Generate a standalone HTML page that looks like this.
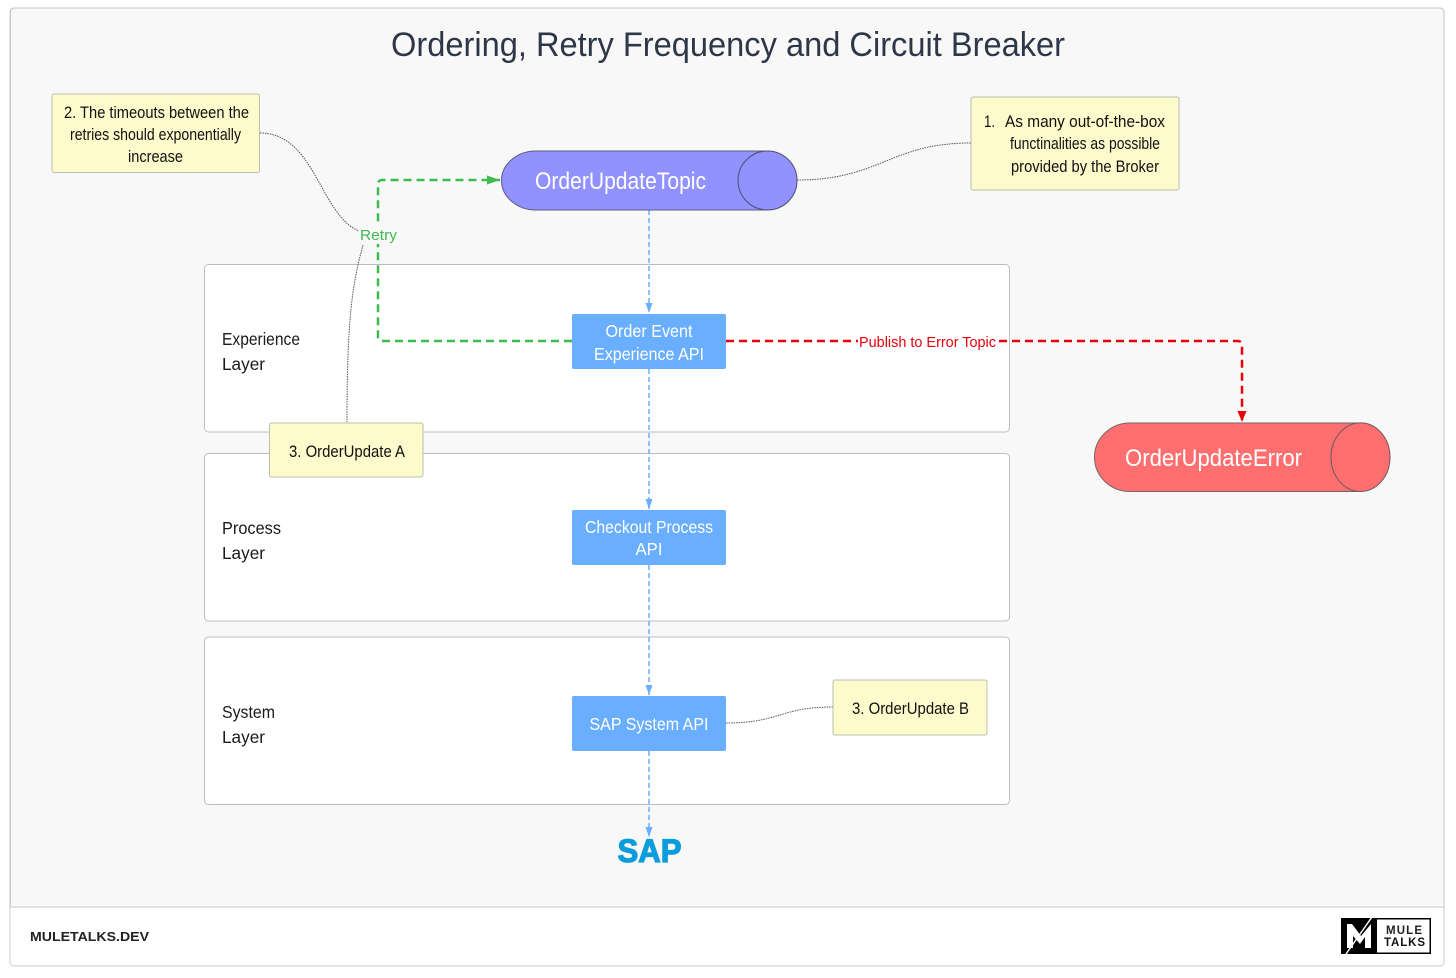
<!DOCTYPE html>
<html lang="en">
<head>
<meta charset="utf-8">
<title>Ordering, Retry Frequency and Circuit Breaker</title>
<style>
html,body{margin:0;padding:0;background:#fff;width:1456px;height:978px;overflow:hidden}
svg{display:block}
text{font-family:"Liberation Sans",sans-serif}
</style>
</head>
<body>
<svg width="1456" height="978" viewBox="0 0 1456 978" xmlns="http://www.w3.org/2000/svg">
<defs>
<marker id="g" markerUnits="userSpaceOnUse" markerWidth="14" markerHeight="12" refX="13" refY="6" orient="auto"><path d="M0 1.5L13 6L0 10.500Z" fill="#3dbb4e"/></marker>
<marker id="r" markerUnits="userSpaceOnUse" markerWidth="12" markerHeight="14" refX="11" refY="7" orient="auto"><path d="M0 2.500L11 7L0 11.500Z" fill="#e8000b"/></marker>
<marker id="b" markerUnits="userSpaceOnUse" markerWidth="12" markerHeight="12" refX="10" refY="6" orient="auto"><path d="M0 2.500L10 6L0 9.500Z" fill="#69aeff"/></marker>
</defs>

<!-- outer frame -->
<rect x="10" y="8" width="1434" height="958" rx="4" fill="#fff" stroke="#c9cdd2"/>
<path d="M10.500 907V12a4 4 0 0 1 4-4H1440a4 4 0 0 1 4 4V907Z" fill="#f8f8f8" stroke="#c4c7cc"/>

<text x="728" y="56" font-size="34" fill="#2d3748" text-anchor="middle" textLength="674" lengthAdjust="spacingAndGlyphs">Ordering, Retry Frequency and Circuit Breaker</text>

<!-- layers -->
<rect x="204.500" y="264.500" width="805" height="167.500" rx="4" fill="#fff" stroke="#b9bec6"/>
<rect x="204.500" y="453.500" width="805" height="167.500" rx="4" fill="#fff" stroke="#b9bec6"/>
<rect x="204.500" y="637" width="805" height="167.500" rx="4" fill="#fff" stroke="#b9bec6"/>

<g font-size="17.500" fill="#1a1a1a">
<text x="222" y="345" textLength="78" lengthAdjust="spacingAndGlyphs">Experience</text>
<text x="222" y="370" textLength="43" lengthAdjust="spacingAndGlyphs">Layer</text>
<text x="222" y="534" textLength="59" lengthAdjust="spacingAndGlyphs">Process</text>
<text x="222" y="559" textLength="43" lengthAdjust="spacingAndGlyphs">Layer</text>
<text x="222" y="718" textLength="53" lengthAdjust="spacingAndGlyphs">System</text>
<text x="222" y="743" textLength="43" lengthAdjust="spacingAndGlyphs">Layer</text>
</g>

<!-- note connectors -->
<g fill="none" stroke="#555" stroke-width="1" stroke-dasharray="1.500 1">
<path d="M260 133C315 133 320 215 359 231"/>
<path d="M363 245C352 285 347 320 347 422"/>
<path d="M797 180C880 180 890 143 971 143"/>
<path d="M726 723C780 723 780 707 833 707"/>
</g>

<!-- blue flow -->
<g fill="none" stroke="#69aeff" stroke-width="1.500" stroke-dasharray="5 3">
<path d="M649 210V313" marker-end="url(#b)"/>
<path d="M649 369V509" marker-end="url(#b)"/>
<path d="M649 565V695" marker-end="url(#b)"/>
<path d="M649 751V837" marker-end="url(#b)"/>
</g>

<!-- retry -->
<path d="M572 341H382a4 4 0 0 1-4-4V184a4 4 0 0 1 4-4H500" fill="none" stroke="#3dbb4e" stroke-width="2.500" stroke-dasharray="8 5" marker-end="url(#g)"/>
<rect x="360" y="226" width="37" height="18" fill="#f8f8f8"/>
<text x="360" y="240" font-size="15" fill="#3dbb4e" textLength="37" lengthAdjust="spacingAndGlyphs">Retry</text>

<!-- error -->
<path d="M726 341H1238a4 4 0 0 1 4 4V422" fill="none" stroke="#e8000b" stroke-width="2.500" stroke-dasharray="8 5" marker-end="url(#r)"/>
<rect x="858" y="332" width="139" height="19" fill="#fff"/>
<text x="859" y="347" font-size="15" fill="#e8000b" textLength="137" lengthAdjust="spacingAndGlyphs">Publish to Error Topic</text>

<!-- topic cylinders -->
<path d="M536 151H762A34.500 29.500 0 0 1 762 210H536A34.500 29.500 0 0 1 536 151Z" fill="#9191ff" stroke="#5d5d80"/>
<ellipse cx="767.500" cy="180.500" rx="29.500" ry="29.500" fill="#9191ff" stroke="#4f4f70"/>
<text x="535" y="189" font-size="24" fill="#fff" textLength="171" lengthAdjust="spacingAndGlyphs">OrderUpdateTopic</text>

<path d="M1130 423H1355A34.500 34.250 0 0 1 1355 491.500H1130A35.500 34.250 0 0 1 1130 423Z" fill="#ff6f6f" stroke="#75666a"/>
<ellipse cx="1360.500" cy="457.200" rx="29.500" ry="34.300" fill="#ff6f6f" stroke="#6a5a5e"/>
<text x="1125" y="466" font-size="24" fill="#fff" textLength="177" lengthAdjust="spacingAndGlyphs">OrderUpdateError</text>

<!-- API boxes -->
<g fill="#69aeff">
<rect x="572" y="314" width="154" height="55" rx="2"/>
<rect x="572" y="510" width="154" height="55" rx="2"/>
<rect x="572" y="696" width="154" height="55" rx="2"/>
</g>
<g font-size="17.500" fill="#fff" text-anchor="middle">
<text x="649" y="337" textLength="87" lengthAdjust="spacingAndGlyphs">Order Event</text>
<text x="649" y="360" textLength="110" lengthAdjust="spacingAndGlyphs">Experience API</text>
<text x="649" y="533" textLength="128" lengthAdjust="spacingAndGlyphs">Checkout Process</text>
<text x="649" y="555" textLength="27" lengthAdjust="spacingAndGlyphs">API</text>
<text x="649" y="730" textLength="119" lengthAdjust="spacingAndGlyphs">SAP System API</text>
</g>

<!-- notes -->
<g fill="#fdfbcb" stroke="#bdbfae">
<rect x="52" y="94" width="207.500" height="78.500" rx="2"/>
<rect x="971" y="97" width="208" height="93" rx="2"/>
<rect x="269.500" y="423" width="153.500" height="54" rx="2"/>
<rect x="833" y="680" width="154" height="55" rx="2"/>
</g>
<g font-size="17" fill="#111">
<text x="64" y="118" textLength="185" lengthAdjust="spacingAndGlyphs">2. The timeouts between the</text>
<text x="70" y="140" textLength="171" lengthAdjust="spacingAndGlyphs">retries should exponentially</text>
<text x="128" y="162" textLength="55" lengthAdjust="spacingAndGlyphs">increase</text>
<text x="984" y="127" textLength="11" lengthAdjust="spacingAndGlyphs">1.</text>
<text x="1005" y="127" textLength="160" lengthAdjust="spacingAndGlyphs">As many out-of-the-box</text>
<text x="1010" y="149" textLength="150" lengthAdjust="spacingAndGlyphs">functinalities as possible</text>
<text x="1011" y="172" textLength="148" lengthAdjust="spacingAndGlyphs">provided by the Broker</text>
<text x="289" y="457" textLength="116" lengthAdjust="spacingAndGlyphs">3. OrderUpdate A</text>
<text x="852" y="714" textLength="117" lengthAdjust="spacingAndGlyphs">3. OrderUpdate B</text>
</g>

<!-- SAP -->
<text x="649.500" y="862" font-size="32" font-weight="700" fill="#0a9ddc" stroke="#0a9ddc" stroke-width="1.200" text-anchor="middle" textLength="64" lengthAdjust="spacingAndGlyphs">SAP</text>

<!-- footer -->
<text x="30" y="941" font-size="13" font-weight="700" fill="#222" textLength="119" lengthAdjust="spacingAndGlyphs">MULETALKS.DEV</text>

<rect x="1341" y="918" width="90" height="36" fill="#000"/>
<rect x="1377" y="919.500" width="52.500" height="33" fill="#fff"/>
<path d="M1347 924H1352L1361 936L1371 924V948H1365V937L1360 944L1353 936V948H1347Z" fill="#fff"/>
<path d="M1346 954L1372 917" stroke="#fff" stroke-width="1.500"/>
<text x="1404" y="934" font-size="11.500" font-weight="700" fill="#222" text-anchor="middle" textLength="36" lengthAdjust="spacing">MULE</text>
<text x="1404.500" y="946" font-size="11.500" font-weight="700" fill="#111" text-anchor="middle" textLength="41" lengthAdjust="spacing">TALKS</text>
</svg>
</body>
</html>
